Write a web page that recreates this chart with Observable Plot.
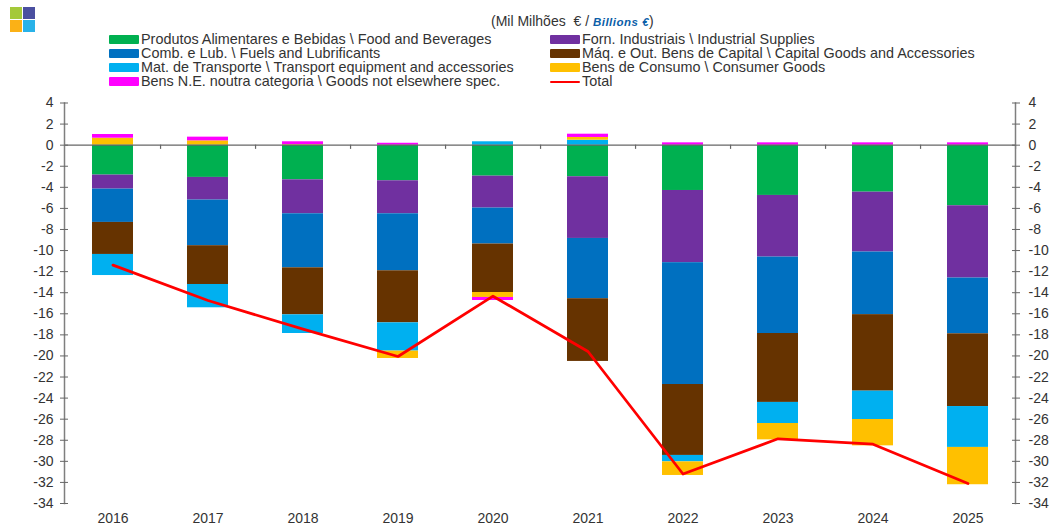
<!DOCTYPE html>
<html><head><meta charset="utf-8">
<script src="https://cdn.jsdelivr.net/npm/d3@7"></script>
<script src="https://cdn.jsdelivr.net/npm/@observablehq/plot@0.6"></script>
<style>
html,body{margin:0;padding:0;background:#fff;}
body{width:1050px;height:526px;overflow:hidden;font-family:"Liberation Sans",Arial,sans-serif;color:#333;}
#head{position:relative;height:95px;width:1050px;}
.logo{position:absolute;width:12px;height:12px;}
#title{position:absolute;left:491px;top:13px;font-size:14px;line-height:17px;white-space:pre;}
#title b{color:#0a5ea8;font-style:italic;font-size:11.5px;letter-spacing:0.5px;}
.lg{position:absolute;font-size:14.4px;line-height:15px;white-space:nowrap;}
.sw{position:absolute;width:30px;border-radius:1px;}
#chart svg{display:block;}
</style></head><body>
<div id="head"></div><div id="chart"></div>
<script>
const years=["2016","2017","2018","2019","2020","2021","2022","2023","2024","2025"];
const foodBev=[-2.84,-3.06,-3.29,-3.38,-2.94,-3.0,-4.3,-4.77,-4.46,-5.75];
const industrial=[-1.33,-2.15,-3.22,-3.13,-3.03,-5.85,-6.85,-5.85,-5.68,-6.86];
const fuels=[-3.16,-4.33,-5.13,-5.41,-3.41,-5.72,-11.56,-7.25,-5.94,-5.29];
const capital=[-3.04,-3.68,-4.46,-4.94,-4.6,-5.95,-6.73,-6.54,-7.26,-6.9];
const transport=[-2.0,-2.21,-1.77,-2.68,0.32,0.47,-0.61,-2.0,-2.69,-3.88];
const consumer=[0.66,0.41,0.05,-0.7,-0.47,0.26,-1.29,-1.55,-2.5,-3.54];
const notElsewhere=[0.35,0.35,0.27,0.18,-0.29,0.31,0.22,0.22,0.22,0.22];
const total=[-11.38,-14.74,-17.46,-20.05,-14.33,-19.58,-31.2,-27.86,-28.37,-32.1];
const yTicks=[4,2,0,-2,-4,-6,-8,-10,-12,-14,-16,-18,-20,-22,-24,-26,-28,-30,-32,-34];
const labels=["Produtos Alimentares e Bebidas \\ Food and Beverages","Forn. Industriais \\ Industrial Supplies","Comb. e Lub. \\ Fuels and Lubrificants","Máq. e Out. Bens de Capital \\ Capital Goods and Accessories","Mat. de Transporte \\ Transport equipment and accessories","Bens de Consumo \\ Consumer Goods","Bens N.E. noutra categoria \\ Goods not elsewhere spec.","Total"];
const colors=["#00B050","#7030A0","#0070C0","#663300","#00B0F0","#FFC000","#FF00FF","#FF0000"];
const seriesValues=[foodBev,industrial,fuels,capital,transport,consumer,notElsewhere];
const rows=[];
seriesValues.forEach((vals,s)=>vals.forEach((v,i)=>rows.push({year:years[i],value:v,color:colors[s],order:s})));
const lineRows=years.map((y,i)=>({year:y,value:total[i]}));

const head=document.getElementById("head");
[["#A4C93A",10,7],["#4A4FA0",23,7],["#FBB116",10,20],["#29B2E8",23,20]].forEach(([c,l,t])=>{
  const d=document.createElement("div");d.className="logo";d.style.cssText=`background:${c};left:${l}px;top:${t}px`;head.appendChild(d);
});
const t=document.createElement("div");t.id="title";t.innerHTML='(Mil Milhões  € / <b>Billions €</b>)';head.appendChild(t);
labels.forEach((lab,i)=>{
  const col=i%2,row=Math.floor(i/2);
  const x=col?550:109, y=[39.3,53.4,67.5,81.5][row];
  const sw=document.createElement("div");sw.className="sw";
  const isLine=i===7;
  sw.style.cssText=`left:${x}px;top:${isLine?y-1:y-4.5}px;height:${isLine?2.5:9}px;background:${colors[i]}`;
  head.appendChild(sw);
  const l=document.createElement("div");l.className="lg";l.textContent=lab;
  l.style.cssText=`left:${x+32}px;top:${y-7.5}px`;
  head.appendChild(l);
});

const axisGray="#7f7f7f";
const hyphenFormat=d=>String(d);
const plot=Plot.plot({
  width:1050,height:431,
  marginLeft:64,marginRight:35,marginTop:7.5,marginBottom:23,
  style:{fontFamily:'"Liberation Sans",Arial,sans-serif',fontSize:"14px",color:"#333",background:"#fff"},
  x:{type:"band",domain:years,paddingInner:0.57,paddingOuter:0.285,label:null},
  y:{domain:[-34,4],label:null},
  marks:[
    Plot.barY(rows,{x:"year",y:"value",fill:"color",order:"order"}),
    Plot.ruleY([0],{stroke:"#666",strokeWidth:1.3}),
    Plot.ruleX(years,{x:d=>d,y1:0,y2:-0.4,dx:47.55,stroke:"#666",strokeWidth:1.2}),
    Plot.frame({anchor:"left",stroke:axisGray,strokeWidth:1.5}),
    Plot.frame({anchor:"right",stroke:axisGray,strokeWidth:1.5}),
    Plot.axisY({anchor:"left",ticks:yTicks,tickSize:4,tickPadding:7,tickFormat:hyphenFormat,label:null,stroke:"#666",fill:"#333"}),
    Plot.axisY({anchor:"left",ticks:yTicks,tickSize:-4,tickFormat:()=>"",label:null,stroke:"#666"}),
    Plot.axisY({anchor:"right",ticks:yTicks,tickSize:4,tickPadding:9,tickFormat:hyphenFormat,label:null,stroke:"#666",fill:"#333"}),
    Plot.axisY({anchor:"right",ticks:yTicks,tickSize:-4,tickFormat:()=>"",label:null,stroke:"#666"}),
    Plot.axisX({anchor:"bottom",tickSize:0,tickPadding:10,label:null,fill:"#333"}),
    Plot.line(lineRows,{x:"year",y:"value",stroke:colors[7],strokeWidth:2.75,curve:"linear"})
  ]
});
document.getElementById("chart").appendChild(plot);
</script>
</body></html>
